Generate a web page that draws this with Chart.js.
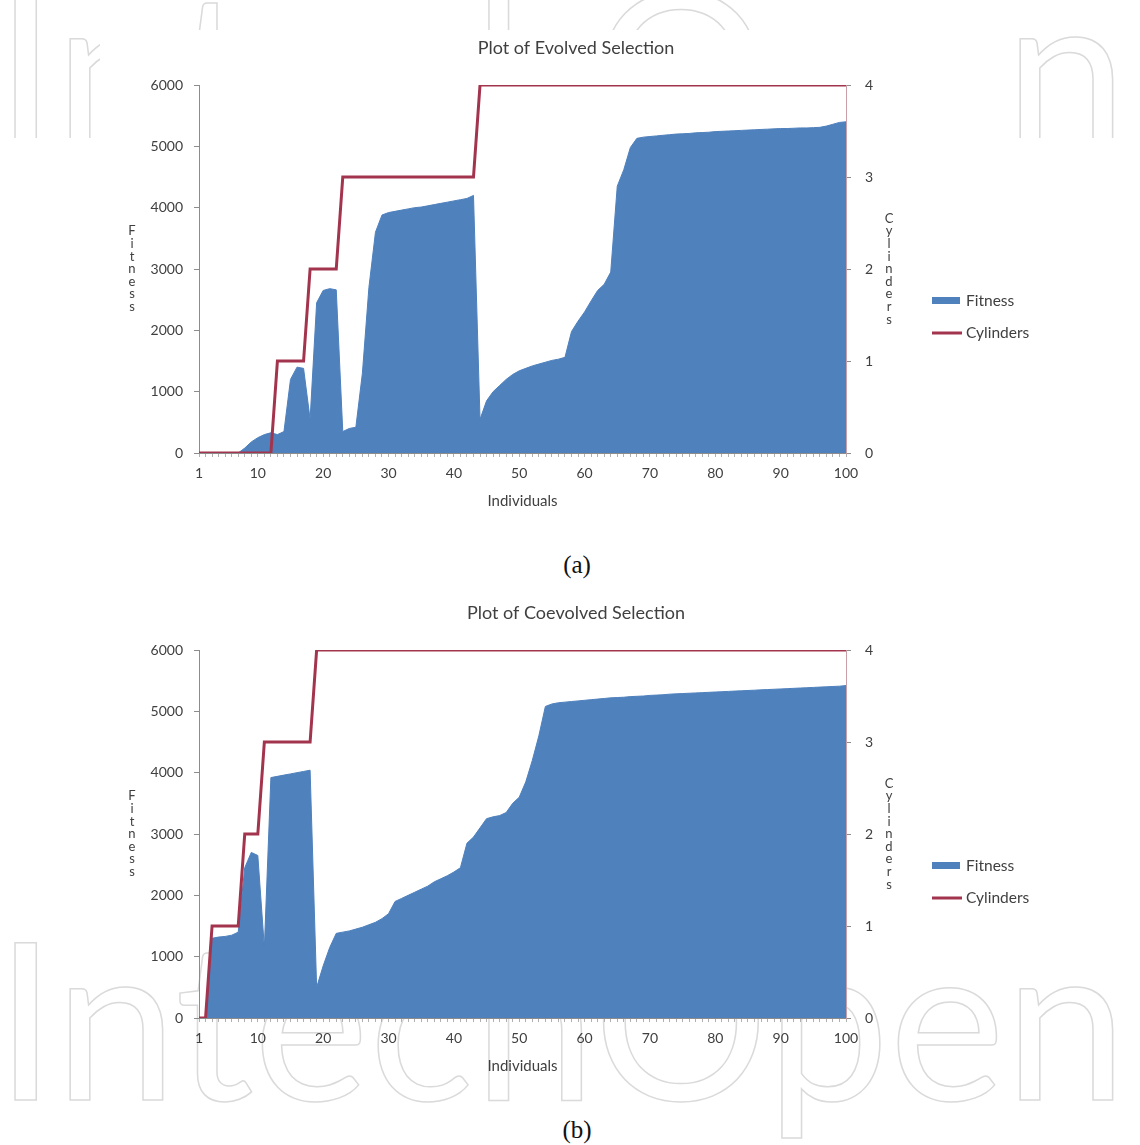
<!DOCTYPE html>
<html lang="en">
<head>
<meta charset="UTF-8">
<title>Plot of Evolved / Coevolved Selection</title>
<style>
  body { margin: 0; background: #fff; }
  #page { position: relative; width: 1140px; height: 1145px; overflow: hidden; background: #fff; }
  .mark { position: absolute; left: -5px; white-space: nowrap; font-family: Lato, sans-serif; font-weight: 400;
          font-size: 219px; line-height: 219px; color: transparent; -webkit-text-stroke: 1.5px #dadada; }
  #topMark { position: absolute; left: 0; top: 0; width: 1140px; height: 138px; overflow: hidden; }
  .cover { position: absolute; left: 100px; top: 30px; width: 900px; height: 510px; background: #fff; }
  .box { position: absolute; left: 100px; width: 952px; height: 510px; }
  #boxA { top: 20px; }
  #boxB { top: 585px; }
  .cap { position: absolute; left: 527px; width: 100px; text-align: center;
         font-family: "Liberation Serif", serif; font-size: 25px; color: #111; line-height: 30px; }
</style>
</head>
<body>
<div id="page">
  <div id="topMark"><div class="mark" style="top:-44px">IntechOpen</div></div>
  <div class="mark" style="top:906px">IntechOpen</div>
  <div class="cover"></div>
  <div class="box" id="boxA"><canvas id="chartA" width="952" height="510"></canvas></div>
  <div class="cap" style="top:550px">(a)</div>
  <div class="box" id="boxB"><canvas id="chartB" width="952" height="510"></canvas></div>
  <div class="cap" style="top:1115px">(b)</div>
</div>

<script src="https://cdn.jsdelivr.net/npm/chart.js"></script>
<script>
// individuals on the x axis
const individuals = [1,2,3,4,5,6,7,8,9,10,11,12,13,14,15,16,17,18,19,20,
  21,22,23,24,25,26,27,28,29,30,31,32,33,34,35,36,37,38,39,40,
  41,42,43,44,45,46,47,48,49,50,51,52,53,54,55,56,57,58,59,60,
  61,62,63,64,65,66,67,68,69,70,71,72,73,74,75,76,77,78,79,80,
  81,82,83,84,85,86,87,88,89,90,91,92,93,94,95,96,97,98,99,100];
const xTickLabels = [1,10,20,30,40,50,60,70,80,90,100];

// (a) evolved selection
const fitnessA = [0,0,0,0,0,0,0,80,180,250,
  300,330,300,350,1200,1400,1380,550,2450,2650,
  2680,2660,350,400,420,1300,2700,3600,3880,3920,
  3940,3960,3980,4000,4010,4030,4050,4070,4090,4110,
  4130,4150,4200,550,850,1000,1100,1200,1280,1340,
  1380,1420,1450,1480,1510,1530,1560,1980,2150,2300,
  2480,2650,2750,2950,4350,4620,4980,5130,5150,5160,
  5170,5180,5190,5200,5205,5210,5220,5225,5230,5240,
  5245,5250,5255,5260,5265,5270,5275,5280,5285,5290,
  5290,5295,5300,5300,5305,5310,5330,5360,5390,5400];
const cylindersA = [0,0,0,0,0,0,0,0,0,0,
  0,0,1,1,1,1,1,2,2,2,
  2,2,3,3,3,3,3,3,3,3,
  3,3,3,3,3,3,3,3,3,3,
  3,3,3,4,4,4,4,4,4,4,
  4,4,4,4,4,4,4,4,4,4,
  4,4,4,4,4,4,4,4,4,4,
  4,4,4,4,4,4,4,4,4,4,
  4,4,4,4,4,4,4,4,4,4,
  4,4,4,4,4,4,4,4,4,4];

// (b) coevolved selection
const fitnessB = [0,0,1300,1320,1330,1350,1400,2450,2700,2650,
  1150,3920,3940,3960,3980,4000,4020,4040,500,850,
  1150,1380,1400,1420,1450,1480,1520,1560,1620,1700,
  1900,1950,2000,2050,2100,2150,2220,2270,2320,2380,
  2450,2850,2950,3100,3250,3280,3300,3350,3500,3600,
  3850,4200,4600,5080,5120,5140,5150,5160,5170,5180,
  5190,5200,5210,5220,5225,5230,5240,5245,5250,5260,
  5265,5270,5280,5285,5290,5295,5300,5305,5310,5315,
  5320,5325,5330,5335,5340,5345,5350,5355,5360,5365,
  5370,5375,5380,5385,5390,5395,5400,5405,5410,5420];
const cylindersB = [0,0,1,1,1,1,1,2,2,2,
  3,3,3,3,3,3,3,3,4,4,
  4,4,4,4,4,4,4,4,4,4,
  4,4,4,4,4,4,4,4,4,4,
  4,4,4,4,4,4,4,4,4,4,
  4,4,4,4,4,4,4,4,4,4,
  4,4,4,4,4,4,4,4,4,4,
  4,4,4,4,4,4,4,4,4,4,
  4,4,4,4,4,4,4,4,4,4,
  4,4,4,4,4,4,4,4,4,4];

const fitnessTicks = [0,1000,2000,3000,4000,5000,6000];
const cylinderTicks = [0,1,2,3,4];

const BLUE = '#4F81BD';
const RED = '#A3344D';
const TEXT = '#404040';
const FONT = 'Lato, "Liberation Sans", sans-serif';

// title, stacked axis titles and legend, like the Excel original
const decor = {
  id: 'decor',
  afterDraw(chart, args, opts) {
    const ctx = chart.ctx;
    const a = chart.chartArea;
    const mid = (a.top + a.bottom) / 2;
    ctx.save();
    ctx.fillStyle = TEXT;
    ctx.textBaseline = 'middle';

    ctx.font = '18px ' + FONT;
    ctx.textAlign = 'center';
    ctx.fillText(opts.title, chart.width / 2, 28);

    // letters stacked one under another
    ctx.font = '13px ' + FONT;
    const stack = (word, x) => {
      const step = 12.6;
      const y0 = mid - (word.length - 1) * step / 2;
      for (let i = 0; i < word.length; i++) ctx.fillText(word[i], x, y0 + i * step);
    };
    stack('Fitness', a.left - 67);
    stack('Cylinders', a.right + 43);

    // legend
    const lx = a.right + 86;
    ctx.fillStyle = BLUE;
    ctx.fillRect(lx, mid + 28, 28, 7);
    ctx.strokeStyle = RED;
    ctx.lineWidth = 3;
    ctx.beginPath();
    ctx.moveTo(lx, mid + 64);
    ctx.lineTo(lx + 30, mid + 64);
    ctx.stroke();
    ctx.fillStyle = TEXT;
    ctx.font = '15.5px ' + FONT;
    ctx.textAlign = 'left';
    ctx.fillText('Fitness', lx + 34, mid + 32);
    ctx.fillText('Cylinders', lx + 34, mid + 64);
    ctx.restore();
  }
};

function makeChart(id, title, fitness, cylinders) {
  const ctx = document.getElementById(id).getContext('2d');
  return new Chart(ctx, {
    type: 'line',
    data: {
      labels: individuals,
      datasets: [
        {
          label: 'Cylinders',
          data: cylinders,
          yAxisID: 'y2',
          borderColor: RED,
          borderWidth: 3,
          pointRadius: 0,
          fill: false,
          tension: 0,
          order: 0
        },
        {
          label: 'Fitness',
          data: fitness,
          yAxisID: 'y',
          borderColor: BLUE,
          backgroundColor: BLUE,
          borderWidth: 1,
          pointRadius: 0,
          fill: 'origin',
          tension: 0,
          order: 1
        }
      ]
    },
    options: {
      responsive: false,
      animation: false,
      layout: { padding: { left: 0, right: 166, top: 65, bottom: 17 } },
      plugins: {
        legend: { display: false },
        tooltip: { enabled: false },
        decor: { title: title }
      },
      scales: {
        x: {
          type: 'category',
          offset: false,
          grid: { drawOnChartArea: false, tickLength: 4, color: '#b0b0b0' },
          border: { color: '#8c8c8c' },
          ticks: {
            autoSkip: false,
            maxRotation: 0,
            padding: 8,
            color: TEXT,
            font: { family: FONT, size: 14 },
            callback: function (val) {
              const lab = this.getLabelForValue(val);
              return xTickLabels.includes(lab) ? String(lab) : '';
            }
          },
          title: { display: true, text: 'Individuals', color: TEXT,
                   font: { family: FONT, size: 15 }, padding: { top: 0, bottom: 3 } },
          afterFit: s => { s.height = 60; }
        },
        y: {
          position: 'left',
          min: 0, max: 6000,
          afterBuildTicks: s => { s.ticks = fitnessTicks.map(v => ({ value: v })); },
          grid: { drawOnChartArea: false, tickLength: 5, color: '#8c8c8c' },
          border: { color: '#8c8c8c' },
          ticks: { padding: 11, color: TEXT, font: { family: FONT, size: 14 }, callback: v => String(v) },
          afterFit: s => { s.width = 99; }
        },
        y2: {
          position: 'right',
          min: 0, max: 4,
          afterBuildTicks: s => { s.ticks = cylinderTicks.map(v => ({ value: v })); },
          grid: { drawOnChartArea: false, tickLength: 5, color: '#8c8c8c' },
          border: { color: '#c9a0a8' },
          ticks: { padding: 14, color: TEXT, font: { family: FONT, size: 14 }, callback: v => String(v) },
          afterFit: s => { s.width = 40; }
        }
      }
    },
    plugins: [decor]
  });
}

makeChart('chartA', 'Plot of Evolved Selection', fitnessA, cylindersA);
makeChart('chartB', 'Plot of Coevolved Selection', fitnessB, cylindersB);
</script>
</body>
</html>
